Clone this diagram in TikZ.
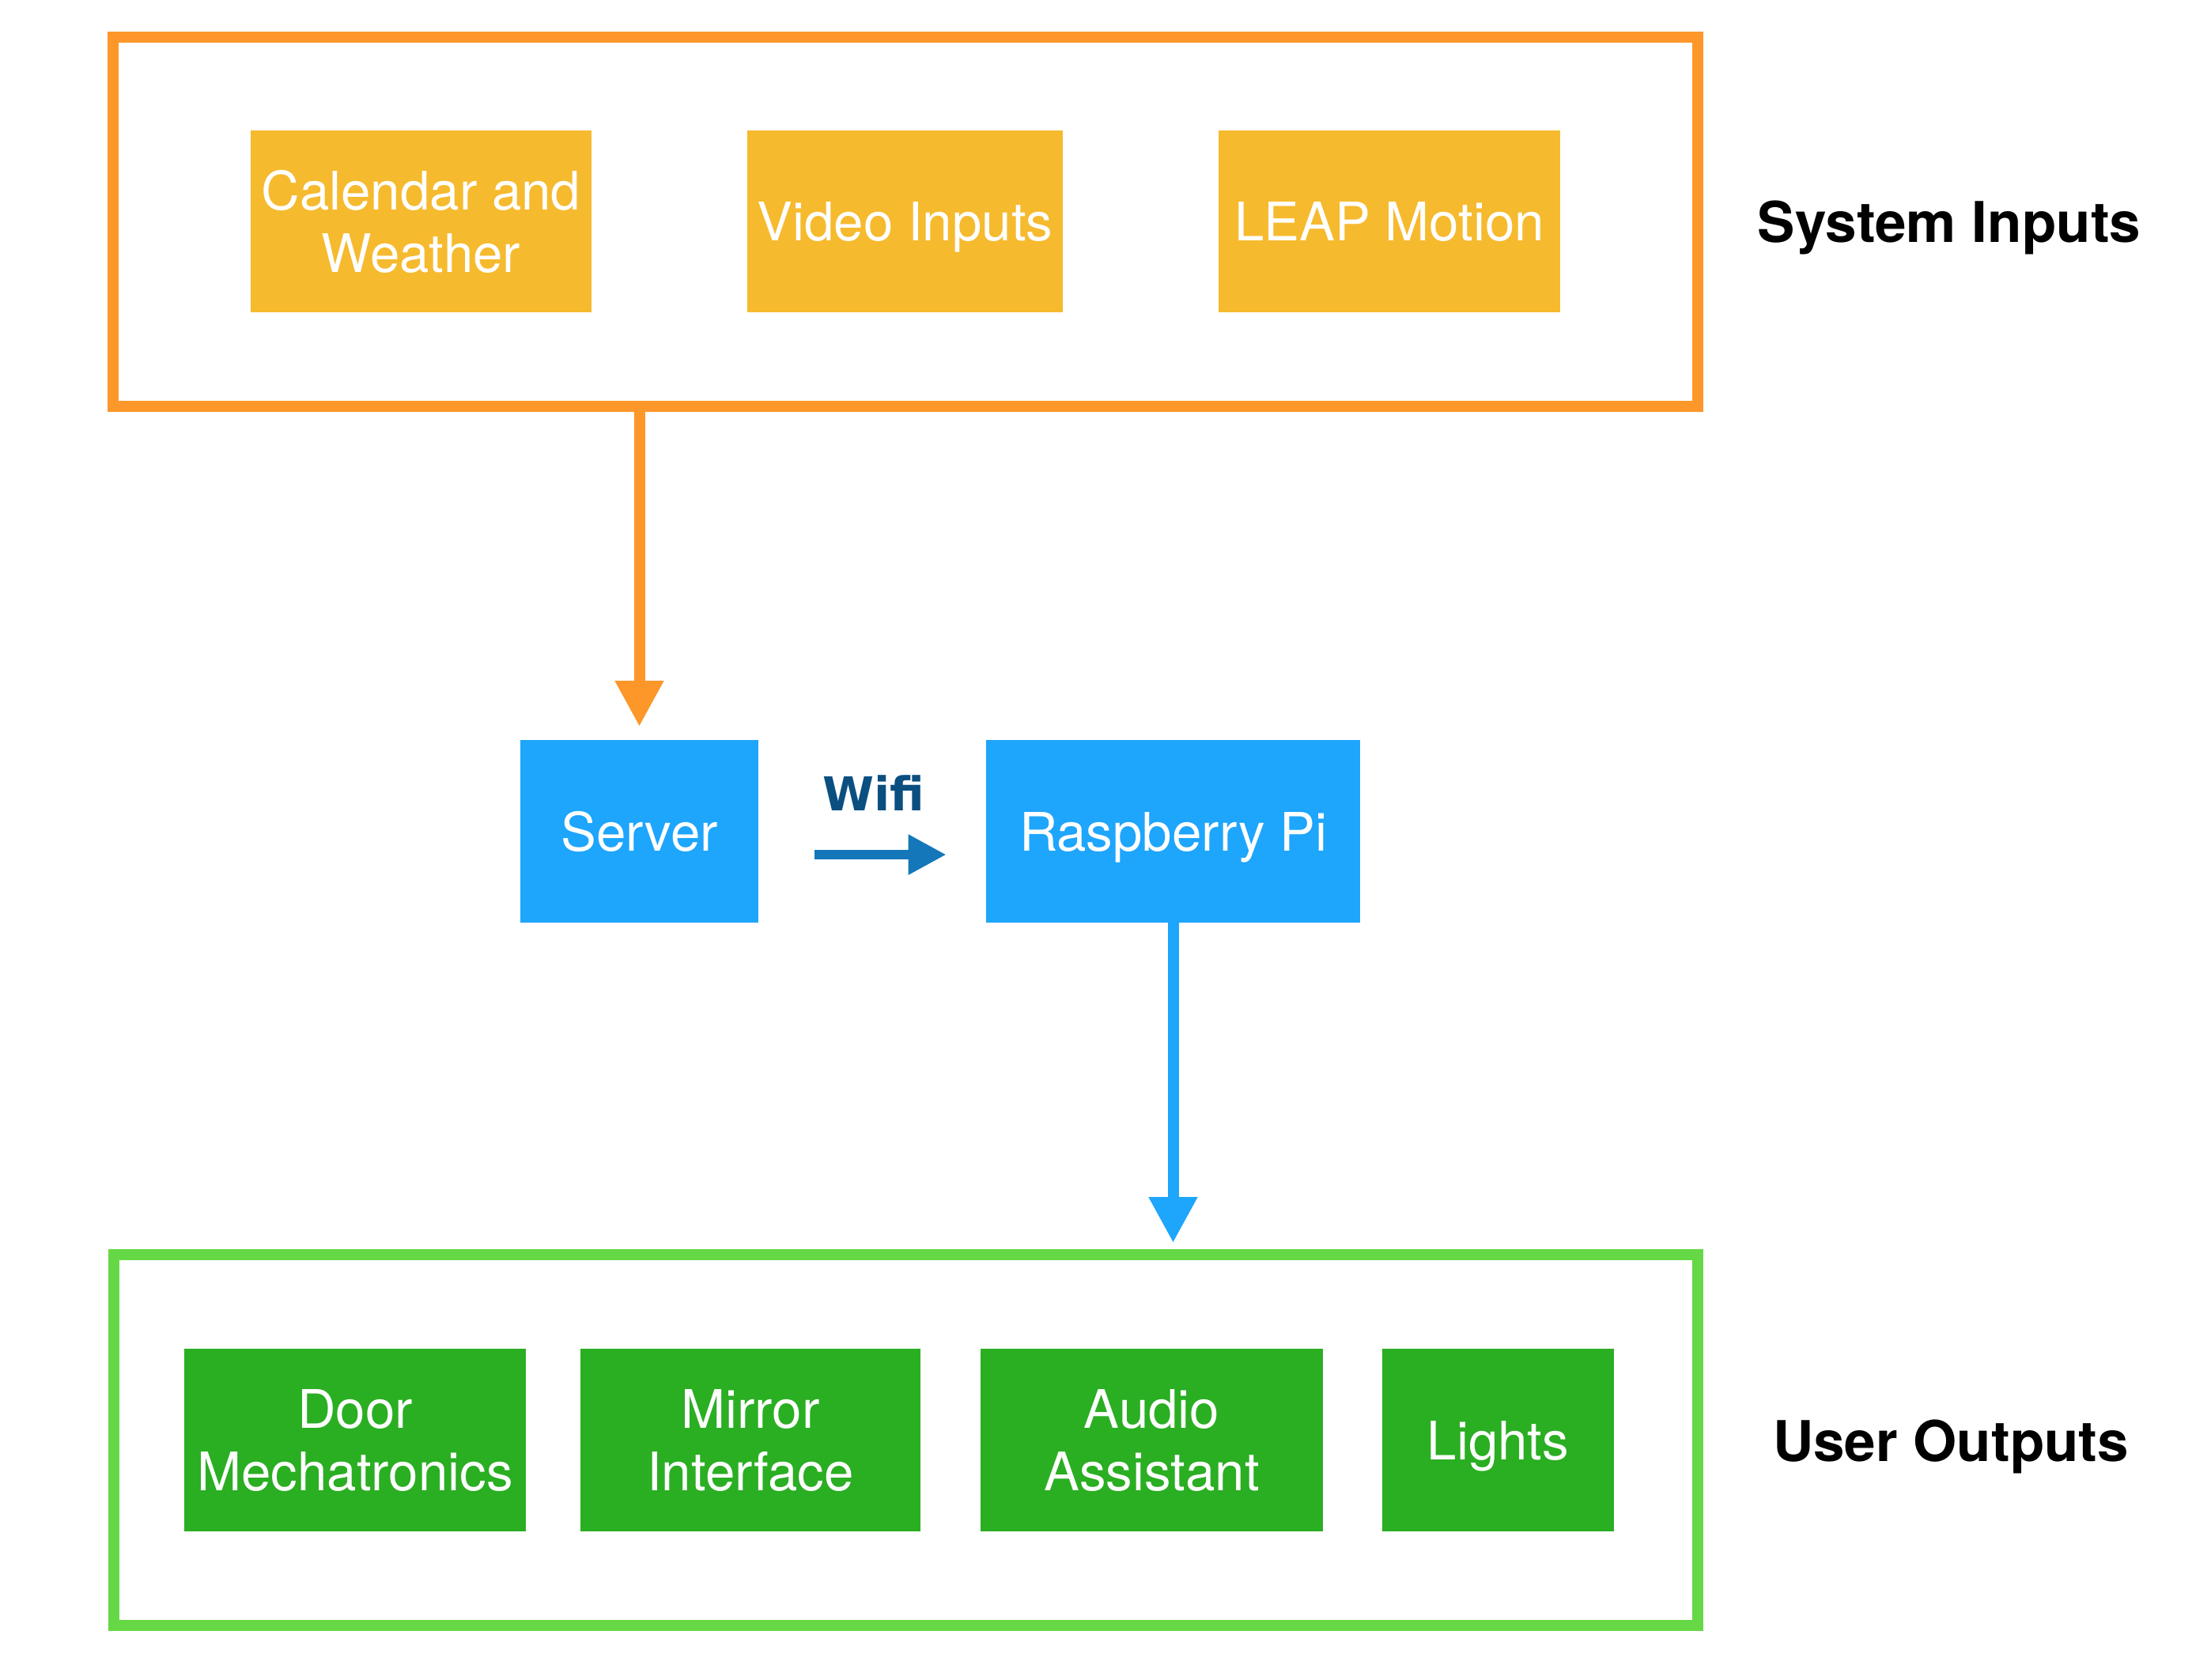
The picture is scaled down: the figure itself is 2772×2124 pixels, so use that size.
\documentclass[tikz,border=0pt]{standalone}
\usepackage{fontspec}
\setmainfont{TeX Gyre Heros}
\newfontfamily\wififont{DejaVu Sans}
\usetikzlibrary{arrows.meta}
\definecolor{frameorange}{HTML}{FD9729}
\definecolor{inyellow}{HTML}{F6BA2E}
\definecolor{midblue}{HTML}{1EA5FC}
\definecolor{framegreen}{HTML}{66D845}
\definecolor{outgreen}{HTML}{2AAE22}
\definecolor{wifiarrowc}{HTML}{1477BA}
\definecolor{wifitextc}{HTML}{0B4F80}
\newcommand\twoline[2]{\vbox{\halign{\hfil##\hfil\cr#1\cr#2\cr}}}
\newcommand\bodyfont{\fontsize{16.8pt}{19.6pt}\selectfont}
\newcommand\sidefont{\fontsize{17.75pt}{21pt}\selectfont\bfseries}
\tikzset{
  sz/.style 2 args={minimum width=#1*0.25pt, minimum height=#2*0.25pt},
  boxbase/.style={rectangle, inner sep=0pt, outer sep=0pt, text=white, font=\bodyfont, text depth=0pt},
  inbox/.style={boxbase, fill=inyellow},
  midbox/.style={boxbase, fill=midblue},
  outbox/.style={boxbase, fill=outgreen},
  framebox/.style={rectangle, inner sep=0pt, line width=3.5pt, fill=none},
  sidelabel/.style={anchor=base, inner sep=0pt, font=\sidefont, text=black},
  bigarrow/.style={line width=3.5pt, -{Triangle[length=14.5pt, width=14.5pt]}},
  wifiarrow/.style={draw=wifiarrowc, line width=2.9pt, -{Triangle[length=12pt, width=12pt]}},
}
\begin{document}
\begin{tikzpicture}[x=0.25pt, y=-0.25pt]
  \fill[white] (0,0) rectangle (2772,2124);
  \useasboundingbox (0,0) rectangle (2772,2124);

  % frames
  \node[framebox, draw=frameorange, sz={2003.5}{467.5}] (inframe) at (1144.75,280.25) {};
  \node[framebox, draw=framegreen, sz={2003}{469}] (outframe) at (1145,1821.5) {};

  % inputs
  \node[inbox, sz={431}{230}] (cal) at (532.5,280) {\twoline{Calendar and}{Weather}};
  \node[inbox, sz={399}{230}] (vid) at (1144.5,280) {Video Inputs};
  \node[inbox, sz={432}{230}] (leap) at (1757,280) {LEAP Motion};

  % middle
  \node[midbox, sz={301}{231}] (server) at (808.5,1051.5) {Server};
  \node[midbox, sz={473}{231}] (rpi) at (1483.5,1051.5) {Raspberry Pi};

  % outputs
  \node[outbox, sz={432}{231}] (door) at (449,1821.5) {\twoline{Door}{Mechatronics}};
  \node[outbox, sz={430}{231}] (mirror) at (949,1821.5) {\twoline{Mirror}{Interface}};
  \node[outbox, sz={433}{231}] (audio) at (1456.5,1821.5) {\twoline{Audio}{Assistant}};
  \node[outbox, sz={293}{231}] (lights) at (1894.5,1821.5) {Lights};

  % side labels
  \node[sidelabel] (inlabel) at (2465,306.7) {System Inputs};
  \node[sidelabel] (outlabel) at (2467,1848) {User Outputs};

  % connectors
  \draw[bigarrow, draw=frameorange, fill=frameorange, shorten >=4.25pt]
    (server.north |- inframe.south) -- (server.north);
  \draw[bigarrow, draw=midblue, fill=midblue, shorten >=2pt]
    (rpi.south) -- (rpi.south |- outframe.north);
  \draw[wifiarrow, fill=wifiarrowc, shorten <=17.75pt, shorten >=12.6pt]
    ([yshift=-7.375pt]server.east) -- ([yshift=-7.375pt]rpi.west);
  \node[anchor=base, inner sep=0pt, text=wifitextc, font=\wififont\bfseries\fontsize{14.75pt}{17pt}\selectfont] (wifi) at (1105,1025) {Wifi};
\end{tikzpicture}
\end{document}
